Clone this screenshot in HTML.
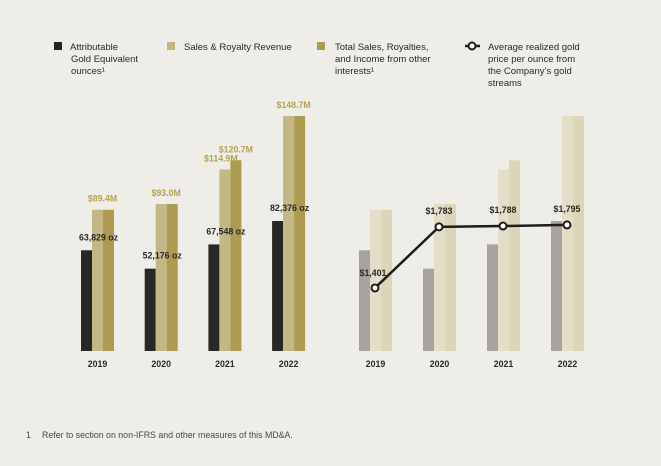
<!DOCTYPE html>
<html><head><meta charset="utf-8">
<style>
body{margin:0;background:#efede8;font-family:"Liberation Sans",sans-serif;}
svg{display:block}
.t{font-family:"Liberation Sans",sans-serif;}
</style></head>
<body>
<svg id="c" width="661" height="466">
<rect width="661" height="466" fill="#efede8"/>
<g class="t" font-size="9.5" fill="#2a2826">
 <g>
  <rect x="54" y="42" width="8" height="8" fill="#262422"/>
  <text x="70" y="50">Attributable</text><text x="71" y="62">Gold Equivalent</text><text x="71" y="74">ounces¹</text>
 </g>
 <g>
  <rect x="167" y="42" width="8" height="8" fill="#c4b685"/>
  <text x="184" y="50">Sales &amp; Royalty Revenue</text>
 </g>
 <g>
  <rect x="317" y="42" width="8" height="8" fill="#ad9b52"/>
  <text x="335" y="50">Total Sales, Royalties,</text><text x="335" y="62">and Income from other</text><text x="335" y="74">interests¹</text>
 </g>
 <g>
  <line x1="465" y1="46" x2="480" y2="46" stroke="#1e1d1b" stroke-width="2.5"/>
  <circle cx="472" cy="46" r="3.5" fill="#fff" stroke="#1e1d1b" stroke-width="2"/>
  <text x="488" y="50">Average realized gold</text><text x="488" y="62">price per ounce from</text><text x="488" y="74">the Company’s gold</text><text x="488" y="86">streams</text>
 </g>
</g>
<g id="left"></g>
<g id="right"></g>
<text x="26" y="438" class="t" font-size="8.8" fill="#4a4744">1<tspan x="42">Refer to section on non-IFRS and other measures of this MD&amp;A.</tspan></text>
</svg>
<script>
const years=['2019','2020','2021','2022'];
const ounces=[63829,52176,67548,82376];
const ounceLabels=['63,829 oz','52,176 oz','67,548 oz','82,376 oz'];
const sales=[89.4,93.0,114.9,148.7];
const total=[89.4,93.0,120.7,148.7];
const price=[1401,1783,1788,1795];
const priceLabels=['$1,401','$1,783','$1,788','$1,795'];

const NS='http://www.w3.org/2000/svg';
const base=351, bw=11;
const yOz=v=>base-v*0.001578;
const yRev=v=>base-v*1.58;
const yPrice=v=>base-(v-1007)*0.16;
function mk(tag,attrs,parent){const e=document.createElementNS(NS,tag);for(const k in attrs)e.setAttribute(k,attrs[k]);parent.appendChild(e);return e;}
function txt(x,y,s,fill,parent,anchor){const t=mk('text',{x:x,y:y,'font-size':8.8,'font-weight':'bold',fill:fill,'text-anchor':anchor||'middle','font-family':'Liberation Sans, sans-serif'},parent);t.textContent=s;return t;}

const L=document.getElementById('left'), R=document.getElementById('right');
const lx=i=>81+i*63.7, rx=i=>359+i*64;
years.forEach((yr,i)=>{
  let x=lx(i);
  let b=mk('rect',{x:x,y:yOz(ounces[i]),width:bw,height:base-yOz(ounces[i]),fill:'#292725'},L);
  
  
  b=mk('rect',{x:x+bw,y:yRev(sales[i]),width:bw,height:base-yRev(sales[i]),fill:'#c4b685'},L);
  
  
  b=mk('rect',{x:x+2*bw,y:yRev(total[i]),width:bw,height:base-yRev(total[i]),fill:'#ad9b52'},L);
  
  
  let t=txt(x+bw/2+12,yOz(ounces[i])-10,ounceLabels[i],'#2a2826',L);
  
  
  if(sales[i]!==total[i]){
    t=txt(x+bw*1.5-4,yRev(sales[i])-8,'$'+sales[i].toFixed(1)+'M','#b6a24f',L);
    
    
  }
  t=txt(x+bw*2.5-(sales[i]!==total[i]?0:6),yRev(total[i])-8,'$'+total[i].toFixed(1)+'M','#b6a24f',L);
  
  
  t=txt(x+bw*1.5,367,yr,'#2a2826',L);
  
  

  x=rx(i);
  b=mk('rect',{x:x,y:yOz(ounces[i]),width:bw,height:base-yOz(ounces[i]),fill:'#a7a49f'},R);
  
  
  b=mk('rect',{x:x+bw,y:yRev(sales[i]),width:bw,height:base-yRev(sales[i]),fill:'#e4ddc8'},R);
  
  
  b=mk('rect',{x:x+2*bw,y:yRev(total[i]),width:bw,height:base-yRev(total[i]),fill:'#ddd5b8'},R);
  
  
  t=txt(x+bw*1.5,367,yr,'#2a2826',R);
  
  
});
const pts=price.map((v,i)=>[rx(i)+16,yPrice(v)]);
const pl=mk('polyline',{points:pts.map(p=>p.join(',')).join(' '),fill:'none',stroke:'#1e1d1b','stroke-width':2.5},R);


pts.forEach((p,i)=>{
  const c=mk('circle',{cx:p[0],cy:p[1],r:3.5,fill:'#fff',stroke:'#1e1d1b','stroke-width':2},R);
  
  
  const t=txt(p[0]-(i===0?2:0),p[1]-(i===0?12:13),priceLabels[i],'#2a2826',R);
  
  
});
</script>
</body></html>
